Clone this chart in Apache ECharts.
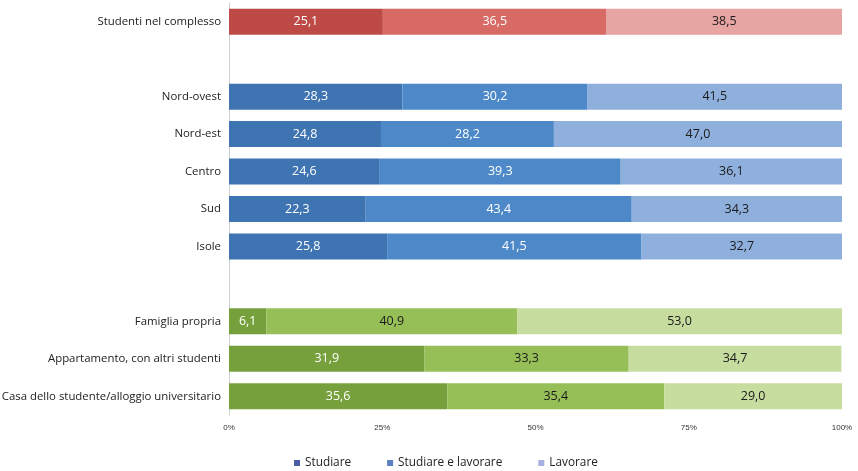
<!DOCTYPE html>
<html><head><meta charset="utf-8">
<script src="https://cdn.jsdelivr.net/npm/echarts@6/dist/echarts.min.js"></script>
<style>html,body{margin:0;padding:0;background:#fff}#c{width:858px;height:471px}</style>
</head><body><div id="c"></div>
<script>
const categories = ['Studenti nel complesso', ' ', 'Nord-ovest', 'Nord-est', 'Centro', 'Sud', 'Isole', '  ', 'Famiglia propria', 'Appartamento, con altri studenti', 'Casa dello studente/alloggio universitario'];
const studiare = [25.1, null, 28.3, 24.8, 24.6, 22.3, 25.8, null, 6.1, 31.9, 35.6];
const studiareLavorare = [36.5, null, 30.2, 28.2, 39.3, 43.4, 41.5, null, 40.9, 33.3, 35.4];
const lavorare = [38.5, null, 41.5, 47.0, 36.1, 34.3, 32.7, null, 53.0, 34.7, 29.0];
const seriesNames = ['Studiare', 'Studiare e lavorare', 'Lavorare'];
const xTicks = ['0%', '25%', '50%', '75%', '100%'];
const groupOf = [0, null, 1, 1, 1, 1, 1, null, 2, 2, 2];

const palette = [
  ['#bd4a47', '#d86a66', '#e6a4a2'],
  ['#3f74b2', '#4d88c8', '#8fb0dc'],
  ['#76a03c', '#97bf57', '#c7dc9f']
];
const labelColors = [
  ['#fff', '#fff', '#1a1a1a'],
  ['#fff', '#fff', '#1a1a1a'],
  ['#fff', '#1a1a1a', '#1a1a1a']
];
const legendColors = ['#4a5ea8', '#5b80c4', '#a8b0e2'];

function build(values, si) {
  return values.map((v, i) => {
    if (v == null) return { value: null };
    const g = groupOf[i];
    return {
      value: v,
      itemStyle: { color: palette[g][si] },
      label: { color: labelColors[g][si] }
    };
  });
}
const all = [studiare, studiareLavorare, lavorare];
const chart = echarts.init(document.getElementById('c'));
chart.setOption({
  animation: false,
  grid: { left: 229, right: 16, top: 3, bottom: 56, containLabel: false, outerBoundsMode: 'none' },
  xAxis: {
    type: 'value', min: 0, max: 100, interval: 25,
    axisLine: { show: false }, axisTick: { show: false }, splitLine: { show: false },
    axisLabel: { fontSize: 8, color: '#333', margin: 9, fontFamily: 'Liberation Sans',
      formatter: v => xTicks[v / 25] }
  },
  yAxis: {
    type: 'category', data: categories, inverse: true,
    axisLine: { show: true, lineStyle: { color: '#d0d0d0' } },
    axisTick: { show: false },
    axisLabel: { fontSize: 11.4, color: '#222', margin: 8, fontFamily: 'Open Sans' }
  },
  legend: {
    bottom: 2, left: 294, padding: 0, itemWidth: 6, itemHeight: 6, itemGap: 36, icon: 'rect',
    textStyle: { fontSize: 11.8, color: '#222', fontFamily: 'Open Sans' },
    data: seriesNames
  },
  series: seriesNames.map((n, si) => ({
    name: n, type: 'bar', stack: 'tot', barWidth: 26,
    itemStyle: { color: legendColors[si] },
    label: { show: true, position: 'inside', fontSize: 12.5, fontFamily: 'Open Sans',
      formatter: p => p.value == null ? '' : p.value.toFixed(1).replace('.', ',') },
    data: build(all[si], si)
  }))
});
</script></body></html>
